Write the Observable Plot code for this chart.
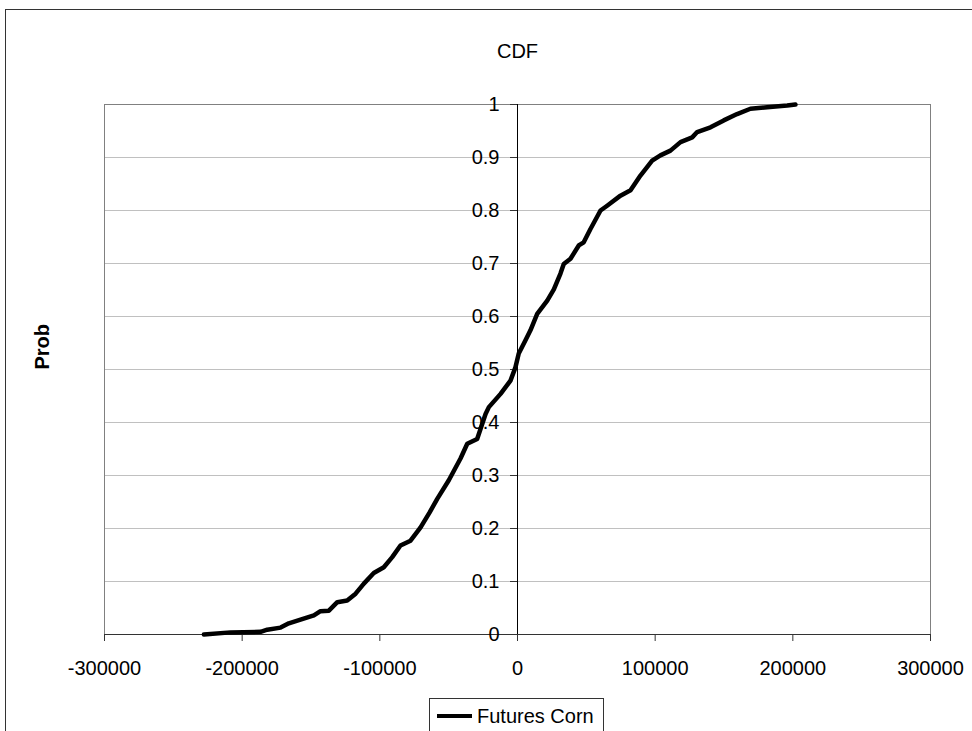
<!DOCTYPE html>
<html>
<head>
<meta charset="utf-8">
<script src="https://cdn.jsdelivr.net/npm/d3@7"></script>
<script src="https://cdn.jsdelivr.net/npm/@observablehq/plot@0.6"></script>
<style>
  html, body { margin: 0; padding: 0; background: #fff; overflow: hidden; }
  #wrap { position: relative; width: 972px; height: 731px; overflow: hidden; font-family: "Liberation Sans", Arial, sans-serif; }
  #border { position: absolute; left: 5px; top: 9px; width: 1000px; height: 800px; border: 1.5px solid #333; box-sizing: border-box; }
  #chart { position: absolute; left: 0; top: 0; }
  #legend { position: absolute; left: 429px; top: 698px; width: 175px; height: 60px; border: 1px solid #333; box-sizing: border-box; background: #fff; }
  #legend .swatch { position: absolute; left: 7px; top: 15px; width: 35px; height: 4px; background: #000; }
  #legend .label { position: absolute; left: 47px; top: 5px; font-size: 20px; line-height: 24px; color: #000; white-space: nowrap; }
</style>
</head>
<body>
<div id="wrap">
  <div id="border"></div>
  <div id="chart"></div>
  <div id="legend"><div class="swatch"></div><div class="label">Futures Corn</div></div>
</div>
<script>
const cornValue = [-227800, -208400, -186600, -181800, -172100, -166100, -157600, -147900, -143100, -137000,
  -130900, -123700, -117600, -111600, -104400, -97100, -91000, -85000, -77700, -70400,
  -63700, -58300, -49900, -41400, -36500, -29300, -23200, -20800, -12300, -5100,
  -1500, 900, 5800, 9400, 14300, 21600, 26400, 31200, 33600, 38500,
  44500, 48100, 53000, 60300, 65100, 74800, 82100, 89300, 97800, 103800,
  111100, 118400, 126900, 130500, 140200, 149800, 159500, 169200, 181300, 195900, 201900];
const cornProb = [0, 0.004, 0.005, 0.009, 0.013, 0.021, 0.028, 0.036, 0.044, 0.045,
  0.061, 0.064, 0.077, 0.096, 0.116, 0.127, 0.146, 0.168, 0.177, 0.202,
  0.231, 0.256, 0.291, 0.332, 0.360, 0.369, 0.416, 0.429, 0.454, 0.479,
  0.504, 0.530, 0.555, 0.574, 0.605, 0.630, 0.651, 0.681, 0.699, 0.709,
  0.734, 0.740, 0.765, 0.800, 0.809, 0.828, 0.838, 0.866, 0.894, 0.904,
  0.913, 0.929, 0.938, 0.948, 0.957, 0.970, 0.982, 0.992, 0.995, 0.998, 1.0];

const xTicks = [-300000, -200000, -100000, 0, 100000, 200000, 300000];
const yTicks = [0, 0.1, 0.2, 0.3, 0.4, 0.5, 0.6, 0.7, 0.8, 0.9, 1];
const titleText = "CDF";
const yLabelText = "Prob";

const data = cornValue.map((v, i) => ({x: v, p: cornProb[i]}));

const W = 972, H = 731;
const mL = 104, mR = 42, mT = 104, mB = 97;
const xDomain = [-300000, 300000];
// pixel offset of the x = 0 crossing from the left frame edge
const yAxisOffset = (0 - xDomain[0]) / (xDomain[1] - xDomain[0]) * (W - mL - mR);

const chart = Plot.plot({
  width: W,
  height: H,
  marginLeft: mL,
  marginRight: mR,
  marginTop: mT,
  marginBottom: mB,
  style: {fontFamily: '"Liberation Sans", Arial, sans-serif', background: "transparent", color: "#000"},
  x: {domain: xDomain, axis: null},
  y: {domain: [0, 1], axis: null},
  marks: [
    Plot.gridY(yTicks, {stroke: "#c0c0c0", strokeOpacity: 1}),
    Plot.frame({stroke: "#808080"}),
    Plot.ruleY([0], {stroke: "#333"}),
    Plot.ruleX([0], {stroke: "#000"}),
    Plot.axisX({ticks: xTicks, anchor: "bottom", tickSize: 7, tickPadding: 19, fontSize: 20,
      tickFormat: d => String(d), stroke: "#333", label: null}),
    Plot.axisY({ticks: yTicks, anchor: "left", dx: yAxisOffset, tickSize: 7, tickPadding: 11, fontSize: 20,
      tickFormat: d => String(d), stroke: "#333", label: null}),
    Plot.line(data, {x: "x", y: "p", stroke: "#000", strokeWidth: 4.5, strokeLinejoin: "round"}),
    Plot.text([titleText], {frameAnchor: "top", dy: -61, fontSize: 20, text: d => d}),
    Plot.text([yLabelText], {frameAnchor: "left", dx: -62, rotate: -90, fontSize: 20, fontWeight: "bold", text: d => d})
  ]
});
document.getElementById("chart").appendChild(chart);
</script>
</body>
</html>
